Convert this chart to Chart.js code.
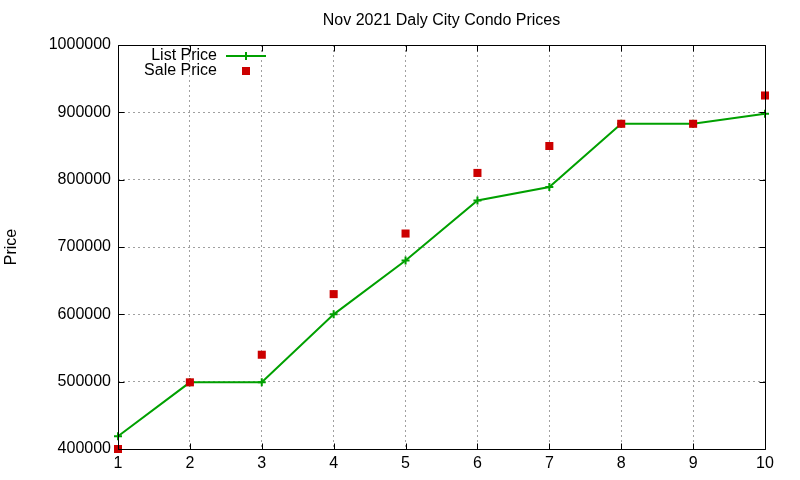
<!DOCTYPE html>
<html>
<head>
<meta charset="utf-8">
<script src="https://cdn.jsdelivr.net/npm/chart.js@4/dist/chart.umd.min.js"></script>
<style>
  html, body { margin: 0; padding: 0; background: #fff; }
  #wrap { width: 800px; height: 480px; }
</style>
</head>
<body>
<div id="wrap"><canvas id="c" width="800" height="480"></canvas></div>
<script>
const chartTitle = 'Nov 2021 Daly City Condo Prices';
const yAxisTitle = 'Price';
const categories = [1, 2, 3, 4, 5, 6, 7, 8, 9, 10];
const listPrice = [419000, 499000, 499000, 600000, 680000, 769000, 789000, 883000, 883000, 898000];
const salePrice = [400000, 499000, 540000, 630000, 720000, 810000, 850000, 883000, 883000, 925000];
const seriesNames = ['List Price', 'Sale Price'];

const FONT = "'Liberation Sans', Arial, sans-serif";
const FS = 16;
const GREEN = '#00a000';
const RED = '#cc0000';

const frameAndLegend = {
  id: 'frameAndLegend',
  afterDraw(chart) {
    const ctx = chart.ctx;
    const ca = chart.chartArea;
    const xs = chart.scales.x, ys = chart.scales.y;
    ctx.save();
    ctx.strokeStyle = '#000';
    ctx.lineWidth = 1;
    ctx.setLineDash([]);
    const L = Math.round(ca.left) + 0.5, R = Math.round(ca.right) + 0.5;
    const T = Math.round(ca.top) + 0.5, B = Math.round(ca.bottom) + 0.5;
    ctx.beginPath();
    ctx.rect(L, T, R - L, B - T);
    // inward ticks
    xs.ticks.forEach(t => {
      const px = Math.round(xs.getPixelForValue(t.value)) + 0.5;
      ctx.moveTo(px, B); ctx.lineTo(px, B - 6);
      ctx.moveTo(px, T); ctx.lineTo(px, T + 6);
    });
    ys.ticks.forEach(t => {
      const py = Math.round(ys.getPixelForValue(t.value)) + 0.5;
      ctx.moveTo(L, py); ctx.lineTo(L + 6, py);
      ctx.moveTo(R, py); ctx.lineTo(R - 6, py);
    });
    ctx.stroke();

    // legend (gnuplot style, inside top-left)
    const ds = chart.data.datasets;
    ctx.font = FS + 'px ' + FONT;
    ctx.fillStyle = '#000';
    ctx.textAlign = 'right';
    ctx.textBaseline = 'middle';
    const textRight = 217, sampleL = 226, sampleR = 266, sampleMid = 246;
    const rows = [56, 71];
    // List Price row
    ctx.fillText(ds[0].label, textRight, rows[0]);
    ctx.strokeStyle = ds[0].borderColor;
    ctx.lineWidth = 2;
    ctx.beginPath();
    ctx.moveTo(sampleL, rows[0]); ctx.lineTo(sampleR, rows[0]);
    ctx.moveTo(sampleMid, rows[0] - 4); ctx.lineTo(sampleMid, rows[0] + 4);
    ctx.stroke();
    // Sale Price row
    ctx.fillText(ds[1].label, textRight, rows[1]);
    ctx.fillStyle = ds[1].pointBackgroundColor;
    ctx.fillRect(sampleMid - 4, rows[1] - 4, 8, 8);
    ctx.restore();
  }
};

const chart = new Chart(document.getElementById('c'), {
  type: 'line',
  data: {
    datasets: [
      {
        label: seriesNames[0],
        data: categories.map((c, i) => ({ x: c, y: listPrice[i] })),
        borderColor: GREEN,
        backgroundColor: GREEN,
        borderWidth: 2,
        tension: 0,
        pointStyle: 'cross',
        pointRadius: 4,
        pointBorderWidth: 2,
        pointBorderColor: GREEN,
        pointBackgroundColor: GREEN,
        clip: false,
        order: 2
      },
      {
        label: seriesNames[1],
        data: categories.map((c, i) => ({ x: c, y: salePrice[i] })),
        showLine: false,
        borderColor: RED,
        backgroundColor: RED,
        pointStyle: 'rect',
        pointRadius: 5.7,
        pointBorderWidth: 0,
        pointBorderColor: RED,
        pointBackgroundColor: RED,
        clip: false,
        order: 1
      }
    ]
  },
  options: {
    responsive: false,
    animation: false,
    devicePixelRatio: 1,
    layout: { padding: { top: 0, right: 35, bottom: 0, left: 0 } },
    plugins: {
      legend: { display: false },
      tooltip: { enabled: false },
      title: {
        display: true,
        text: chartTitle,
        fullSize: false,
        color: '#000',
        font: { family: FONT, size: FS, weight: 'normal', lineHeight: 1.2 },
        padding: { top: 10.5, bottom: 15.3 }
      }
    },
    scales: {
      x: {
        type: 'linear',
        min: 1,
        max: 10,
        ticks: {
          stepSize: 1,
          color: '#000',
          padding: 5,
          font: { family: FONT, size: FS }
        },
        grid: {
          color: '#a0a0a0',
          lineWidth: 1,
          drawTicks: false
        },
        border: { display: false, dash: [2, 3] },
        afterFit(s) { s.height = 31; }
      },
      y: {
        min: 400000,
        max: 1000000,
        ticks: {
          stepSize: 100000,
          color: '#000',
          padding: 7,
          font: { family: FONT, size: FS },
          callback: v => String(v)
        },
        grid: {
          color: '#a0a0a0',
          lineWidth: 1,
          drawTicks: false
        },
        border: { display: false, dash: [2, 3] },
        title: {
          display: true,
          text: yAxisTitle,
          color: '#000',
          font: { family: FONT, size: FS, lineHeight: 1.2 },
          padding: { top: 2, bottom: 0 }
        },
        afterFit(s) { s.width = 118; }
      }
    }
  },
  plugins: [frameAndLegend]
});
</script>
</body>
</html>
